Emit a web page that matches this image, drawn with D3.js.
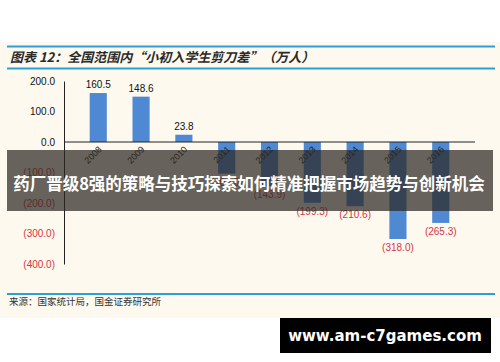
<!DOCTYPE html>
<html>
<head>
<meta charset="utf-8">
<script src="https://cdnjs.cloudflare.com/ajax/libs/d3/7.8.5/d3.min.js"></script>
<style>
  body { margin: 0; background: #fff; }
  svg { display: block; }
</style>
</head>
<body>
<div id="chart"></div>
<script>
var years = ['2008', '2009', '2010', '2011', '2012', '2013', '2014', '2015', '2016']
var gap = [160.5, 148.6, 23.8, -104.0, -143.9, -199.3, -210.6, -318.0, -265.3]
var yTicks = [200, 100, 0, -100, -200, -300, -400]

var title = '图表 12：全国范围内“小初入学生剪刀差”（万人）'
var source = '来源：国家统计局，国金证券研究所'
var banner = '药厂晋级8强的策略与技巧探索如何精准把握市场趋势与创新机会'
var site = 'www.am-c7games.com'

var width = 500
var height = 362
var blue = '#2c9fd6'
var red = '#d9343f'

var svg = d3.select('#chart')
  .append('svg')
  .attr('width', width)
  .attr('height', height)

// cream panel
svg.append('rect')
  .attr('x', 0).attr('y', 42)
  .attr('width', width).attr('height', 276)
  .attr('fill', '#fdf9ef')

// header / footer rules
;[46.5, 68.5, 294].forEach(function(y) {
  svg.append('line')
    .attr('x1', 7).attr('x2', 495)
    .attr('y1', y).attr('y2', y)
    .attr('stroke', blue)
    .attr('stroke-width', 2)
})

svg.append('text')
  .attr('x', 10).attr('y', 62)
  .attr('font-family', 'Noto Sans CJK SC')
  .attr('font-size', 13)
  .attr('font-weight', 'bold')
  .attr('font-style', 'italic')
  .attr('fill', '#2a2a2a')
  .text(title)

svg.append('text')
  .attr('x', 9).attr('y', 305)
  .attr('font-family', 'Noto Sans CJK SC')
  .attr('font-size', 9.5)
  .attr('fill', '#333')
  .text(source)

var x = d3.scaleBand()
  .domain(years)
  .range([64, 475])
  .padding(0.6)

var y = d3.scaleLinear()
  .domain([-400, 200])
  .range([264, 81])

var g = svg.append('g')

// y axis
var yAxis = d3.axisLeft(y)
  .tickValues(yTicks)
  .tickSize(0)
  .tickPadding(9)
  .tickFormat(function(d) {
    return d < 0 ? '(' + d3.format('.1f')(-d) + ')' : d3.format('.1f')(d)
  })

var ya = g.append('g')
  .attr('transform', 'translate(64,0)')
  .call(yAxis)
ya.select('.domain').attr('stroke', '#222').attr('stroke-width', 1)
ya.selectAll('text')
  .attr('font-family', 'Liberation Sans, Arial, sans-serif')
  .attr('font-size', 10)
  .attr('fill', function(d) { return d < 0 ? red : '#111' })

// bars
g.selectAll('rect.bar')
  .data(gap)
  .enter()
  .append('rect')
  .attr('class', 'bar')
  .attr('x', function(d, i) { return x(years[i]) })
  .attr('width', x.bandwidth())
  .attr('y', function(d) { return y(Math.max(0, d)) })
  .attr('height', function(d) { return Math.abs(y(d) - y(0)) })
  .attr('fill', '#4f89d3')

// zero line
g.append('line')
  .attr('x1', 64).attr('x2', 475)
  .attr('y1', y(0)).attr('y2', y(0))
  .attr('stroke', '#222')
  .attr('stroke-width', 1)

// value labels
g.selectAll('text.val')
  .data(gap)
  .enter()
  .append('text')
  .attr('class', 'val')
  .attr('x', function(d, i) { return x(years[i]) + x.bandwidth() / 2 })
  .attr('y', function(d) { return d >= 0 ? y(d) - 5 : y(d) + 12 })
  .attr('text-anchor', 'middle')
  .attr('font-family', 'Liberation Sans, Arial, sans-serif')
  .attr('font-size', 10)
  .attr('fill', function(d) { return d < 0 ? red : '#111' })
  .text(function(d) {
    return d < 0 ? '(' + d3.format('.1f')(-d) + ')' : d3.format('.1f')(d)
  })

// year labels
g.selectAll('text.year')
  .data(years)
  .enter()
  .append('text')
  .attr('class', 'year')
  .attr('transform', function(d) {
    return 'translate(' + (x(d) + x.bandwidth() / 2 + 4) + ',' + (y(0) + 8) + ')rotate(-45)'
  })
  .attr('text-anchor', 'end')
  .attr('font-family', 'Liberation Sans, Arial, sans-serif')
  .attr('font-size', 9)
  .attr('fill', '#222')
  .text(function(d) { return d })

// banner overlay
svg.append('rect')
  .attr('x', 7).attr('y', 150)
  .attr('width', 486).attr('height', 61)
  .attr('fill', 'rgba(45,40,35,0.72)')

svg.append('text')
  .attr('x', 249).attr('y', 190)
  .attr('text-anchor', 'middle')
  .attr('font-family', 'Noto Sans CJK SC')
  .attr('font-size', 16.5)
  .attr('font-weight', 'bold')
  .attr('fill', '#fff')
  .text(banner)

// site badge
svg.append('rect')
  .attr('x', 280).attr('y', 318)
  .attr('width', 211).attr('height', 35)
  .attr('fill', '#000')

svg.append('text')
  .attr('x', 385).attr('y', 341)
  .attr('text-anchor', 'middle')
  .attr('font-family', 'DejaVu Sans')
  .attr('font-size', 15)
  .attr('font-weight', 'bold')
  .attr('fill', '#fff')
  .text(site)
</script>
</body>
</html>
